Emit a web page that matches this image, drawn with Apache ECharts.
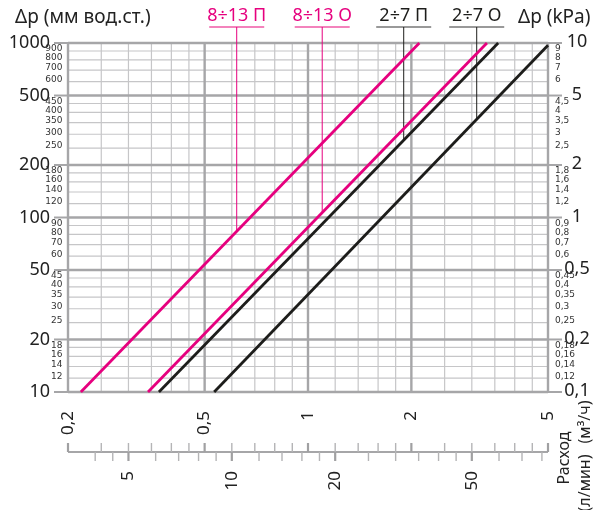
<!DOCTYPE html>
<html><head><meta charset="utf-8">
<script src="https://cdn.jsdelivr.net/npm/echarts@6/dist/echarts.min.js"></script>
<style>html,body{margin:0;padding:0;background:#fff}#c{width:604px;height:510px}</style>
</head><body><div id="c"></div>
<script>
// ---- data ----
const flowGrid = [0.2,0.25,0.3,0.35,0.4,0.45,0.5,0.6,0.7,0.8,0.9,1,1.2,1.4,1.6,1.8,2,2.5,3,3.5,4,4.5,5];
const flowMajor = [0.2,0.5,1,2,5];
const flowLabels = ['0,2','0,5','1','2','5'];
const lpmTicks = [4,4.5,5,6,7,8,9,10,12,14,16,18,20,25,30,35,40,45,50,60,70,80];
const lpmMajor = [5,10,20,50];
const lpmLabels = ['5','10','20','50'];
const dpGrid = [10,12,14,16,18,20,25,30,35,40,45,50,60,70,80,90,100,120,140,160,180,200,250,300,350,400,450,500,600,700,800,900,1000];
const dpMajor = [10,20,50,100,200,500,1000];
const dpMajorLabels = ['10','20','50','100','200','500','1000'];
const dpMinor = [12,14,16,18,25,30,35,40,45,60,70,80,90,120,140,160,180,250,300,350,400,450,600,700,800,900];
const dpMinorLabels = ['12','14','16','18','25','30','35','40','45','60','70','80','90','120','140','160','180','250','300','350','400','450','600','700','800','900'];
const kpaMajor = [0.1,0.2,0.5,1,2,5,10];
const kpaMajorLabels = ['0,1','0,2','0,5','1','2','5','10'];
const kpaMinor = [0.12,0.14,0.16,0.18,0.25,0.3,0.35,0.4,0.45,0.6,0.7,0.8,0.9,1.2,1.4,1.6,1.8,2.5,3,3.5,4,4.5,6,7,8,9];
const kpaMinorLabels = ['0,12','0,14','0,16','0,18','0,25','0,3','0,35','0,4','0,45','0,6','0,7','0,8','0,9','1,2','1,4','1,6','1,8','2,5','3','3,5','4','4,5','6','7','8','9'];

const seriesNames = ['8÷13 П','8÷13 О','2÷7 П','2÷7 О'];
const line813P = [[0.218,10],[2.11,1000]];
const line813O = [[0.342,10],[3.32,1000]];
const line27P  = [[0.368,10],[3.58,1000]];
const line27O  = [[0.533,10],[5,970]];
const seriesData = [line813P, line813O, line27P, line27O];
const labelFlow = [0.62, 1.1, 1.9, 3.1];   // where each label's leader line meets its curve
const PINK = '#e6007e', BLACK = '#1d1d1b';
const seriesColors = [PINK, PINK, BLACK, BLACK];

// ---- chart ----
const chart = echarts.init(document.getElementById('c'), null, {renderer:'canvas'});
const hidden = {axisLine:{show:false},axisTick:{show:false},axisLabel:{show:false},splitLine:{show:false}};
chart.setOption({
  animation:false,
  backgroundColor:'#fff',
  grid:{left:68,right:56,top:43,bottom:118},
  xAxis:[Object.assign({type:'log',logBase:10,min:0.2,max:5},hidden)],
  yAxis:[Object.assign({type:'log',logBase:10,min:10,max:1000},hidden),
         Object.assign({type:'log',logBase:10,min:0.1,max:10,position:'right'},hidden)],
  series: seriesData.map((d,i)=>({
    name:seriesNames[i], type:'line', data:d, showSymbol:false, symbol:'none', silent:true,
    lineStyle:{color:seriesColors[i], width:2.8, cap:'butt'}, z:10
  }))
});

const px = v => chart.convertToPixel({xAxisIndex:0}, v);
const py = v => chart.convertToPixel({yAxisIndex:0}, v);
const pyk = v => chart.convertToPixel({yAxisIndex:1}, v);
const L = Math.log10;
function yOnLine(line, q){
  const a=line[0], b=line[1];
  const t=(L(q)-L(a[0]))/(L(b[0])-L(a[0]));
  return Math.pow(10, L(a[1])+t*(L(b[1])-L(a[1])));
}

const G = [];
const FONT = '"Noto Sans", "DejaVu Sans", sans-serif';
const SMALL = '"DejaVu Sans", sans-serif';
function seg(x1,y1,x2,y2,stroke,w,z){
  G.push({type:'line',silent:true,z:z||1,shape:{x1:x1,y1:y1,x2:x2,y2:y2},style:{stroke:stroke,lineWidth:w}});
}
function txt(t,x,y,o){
  o=o||{};
  G.push({type:'text',silent:true,z:o.z||3,x:x,y:y,rotation:o.rot||0,
    style:{text:t,x:0,y:0,fill:o.fill||'#222',fontSize:o.size||17,fontFamily:o.family||FONT,
      align:o.align||'left',verticalAlign:o.va||'middle',textAlign:o.align||'left',textVerticalAlign:o.va||'middle'}});
}

const x0=px(0.2), x1=px(5), yT=py(1000), yB=py(10);
const THIN='#c6c6c8', THICK='#a6a6a8';
// grid
flowGrid.forEach(v=>{
  const major=flowMajor.indexOf(v)>=0;
  seg(px(v),yT,px(v),yB,major?THICK:THIN,major?2.4:1.2,major?2:1);
});
dpGrid.forEach(v=>{
  const major=dpMajor.indexOf(v)>=0;
  seg(x0,py(v),x1,py(v),major?THICK:THIN,major?2.4:1.2,major?2:1);
});
// left labels
dpMajor.forEach((v,i)=>{
  seg(x0-14,py(v),x0,py(v),THICK,2,2);
  txt(dpMajorLabels[i],x0-18,py(v),{align:'right',size:18});
});
dpMinor.forEach((v,i)=>txt(dpMinorLabels[i],x0-5.5,py(v)-2,{align:'right',size:9,family:SMALL,fill:'#333'}));
// right labels
kpaMajor.forEach((v,i)=>{
  seg(x1,pyk(v),x1+14,pyk(v),THICK,2,2);
  txt(kpaMajorLabels[i],x1+29,pyk(v)-1,{align:'center',size:18});
});
kpaMinor.forEach((v,i)=>txt(kpaMinorLabels[i],x1+7,pyk(v)-2,{align:'left',size:9,family:SMALL,fill:'#333'}));
// bottom flow labels (m3/h)
flowMajor.forEach((v,i)=>txt(flowLabels[i],px(v),yB+19,{align:'right',rot:Math.PI/2,size:17}));
// secondary flow axis (l/min)
const yA = yB+60;
seg(x0,yA,x1,yA,THICK,2,2);
flowGrid.forEach(v=>{
  const major=flowMajor.indexOf(v)>=0;
  seg(px(v),yA-9,px(v),yA,major?'#a0a0a2':'#b4b4b6',major?2.2:1.4,2);
});
lpmTicks.forEach(v=>{
  const major=lpmMajor.indexOf(v)>=0;
  const q=v*0.06;
  seg(px(q),yA,px(q),yA+9,major?'#a0a0a2':'#b4b4b6',major?2.2:1.4,2);
});
lpmMajor.forEach((v,i)=>txt(lpmLabels[i],px(v*0.06),yA+19,{align:'right',rot:Math.PI/2,size:17}));
txt('Расход',x1+16,yA+6,{align:'center',rot:Math.PI/2,size:16});
txt('(м³/ч)',x1+37,yA-30,{align:'center',rot:Math.PI/2,size:16});
txt('(л/мин)',x1+37,yA+31,{align:'center',rot:Math.PI/2,size:16});
// titles
txt('Δp (мм вод.ст.)',15,18,{size:19});
txt('Δp (kPa)',518,18,{size:19});
// series labels with leaders
seriesNames.forEach((n,i)=>{
  const q=labelFlow[i], lx=px(q), col=seriesColors[i];
  txt(n,lx,16,{align:'center',size:18,fill:col});
  seg(lx-27.5,27,lx+27.5,27,i<2?'#ef5aa6':'#777',1.6,3);
  seg(lx,27,lx,py(yOnLine(seriesData[i],q)),col,1,3);
});
chart.setOption({graphic:{elements:G}});
</script></body></html>
